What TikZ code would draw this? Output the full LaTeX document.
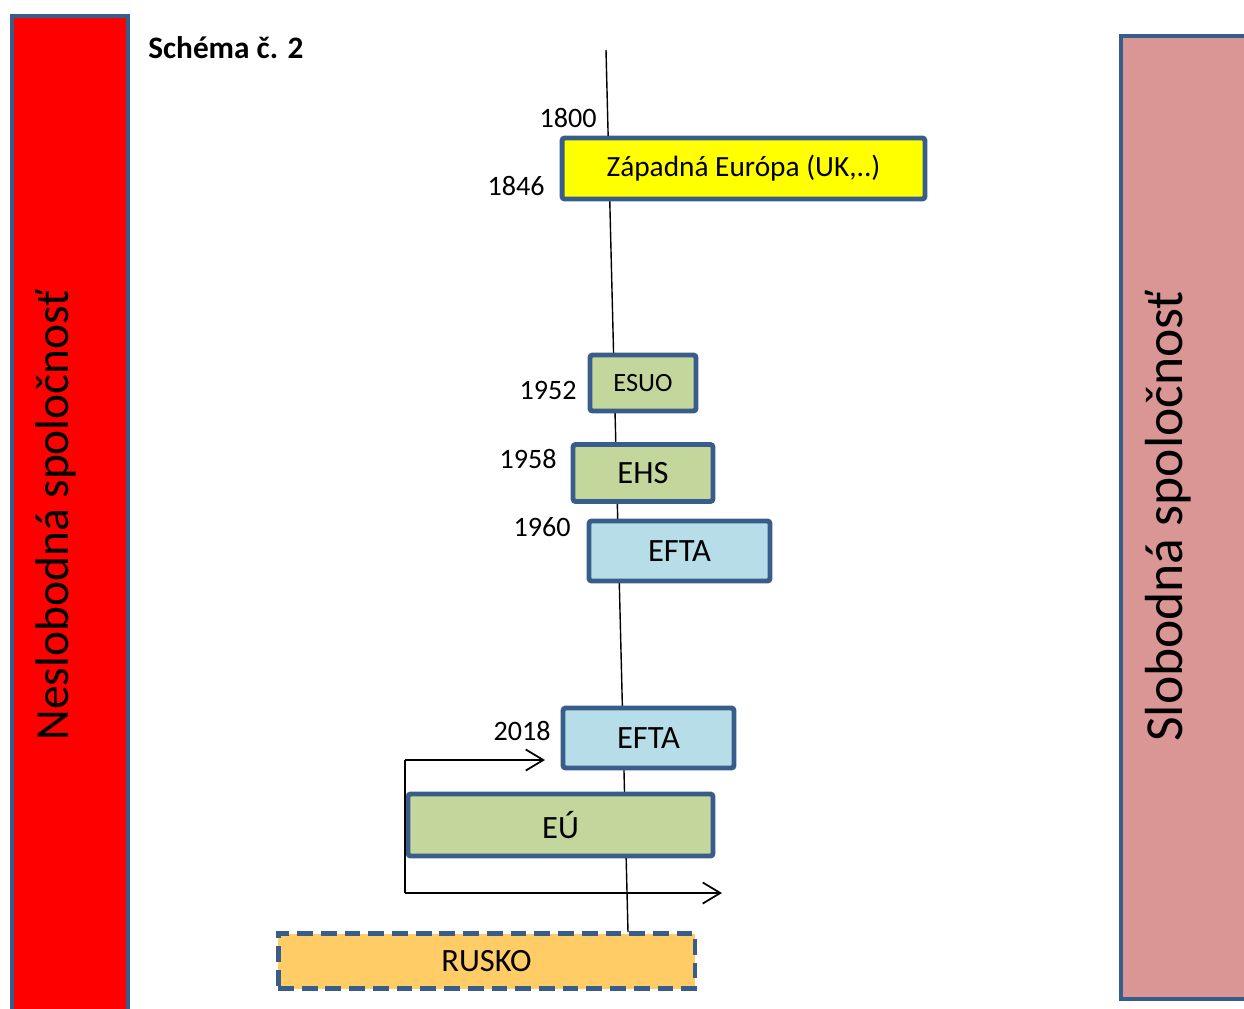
\documentclass[tikz,border=0pt]{standalone}
\usepackage{fontspec}
\setmainfont{Carlito}
\usepackage{tikz}
\usetikzlibrary{positioning,arrows.meta}
\definecolor{FrameBlue}{RGB}{56,93,138}
\definecolor{BarRed}{RGB}{255,0,0}
\definecolor{BarPink}{RGB}{217,150,148}
\definecolor{BoxYellow}{RGB}{255,255,0}
\definecolor{BoxGreen}{RGB}{195,214,155}
\definecolor{BoxBlue}{RGB}{183,222,232}
\definecolor{BoxOrange}{RGB}{255,204,102}

\begin{document}
\begin{tikzpicture}[
		x=0.02cm,y=-0.02cm,
		bar/.style={draw=FrameBlue,line width=2.3pt,inner sep=0pt},
		box/.style={draw=FrameBlue,line width=2.8pt,rounded corners=1.5pt,inner sep=0pt,
			font=\fontsize{18.5}{22}\selectfont},
		year/.style={anchor=east,inner sep=0pt,font=\fontsize{16}{19}\selectfont},
		side/.style={rotate=90,inner sep=0pt,font=\fontsize{27}{32}\selectfont},
		era/.style={->,>={Straight Barb[length=10pt,width=12pt]},line width=1pt}
	]
	
	\useasboundingbox (0,0) rectangle (1244,1008);
	\clip (0,0) rectangle (1244,1008);
	
	% side bars
	\node[
	bar,
	fill=BarRed,
	minimum width=2.32cm,
	minimum height=20.4cm,
	anchor=north
	]
	(nesl)
	at (70,14) {};
	
	\node[
	bar,
	fill=BarPink,
	minimum width=2.8cm,
	minimum height=19.26cm,
	anchor=north west
	]
	(slob)
	at (1119,34) {};
	
	\node[side] (neslText) at (56,515) {Neslobodná spoločnosť};
	\node[side,font=\fontsize{30.5}{36}\selectfont] (slobText) at (1168,516) {Slobodná spoločnosť};
	
	\node[anchor=west,inner sep=0pt,font=\fontsize{17.8}{21}\selectfont\bfseries]
	(title) at (148,48) {Schéma č. 2};
	
	% time axis
	\coordinate (axisTop) at (606,50);
	\coordinate (axisBot) at (628,932);
	\draw[line width=0.8pt] (axisTop) -- (axisBot);
	
	\node[
	box,
	fill=BoxYellow,
	minimum width=7.26cm,
	minimum height=1.22cm,
	font=\fontsize{16.7}{20}\selectfont
	]
	(ZE)
	at (743.5,168.5) {Západná Európa (UK,..)};
	
	\node[
	box,
	fill=BoxGreen,
	minimum width=2.12cm,
	minimum height=1.12cm,
	font=\fontsize{15}{18}\selectfont
	]
	(ESUO)
	at (643,383) {ESUO};
	
	\node[
	box,
	fill=BoxGreen,
	minimum width=2.8cm,
	minimum height=1.14cm
	]
	(EHS)
	at (643,473) {EHS};
	
	\node[
	box,
	fill=BoxBlue,
	minimum width=3.62cm,
	minimum height=1.2cm
	]
	(EFTA)
	at (679.5,551) {EFTA};
	
	\node[
	box,
	fill=BoxBlue,
	minimum width=3.42cm,
	minimum height=1.2cm
	]
	(EFTAnow)
	at (648.5,738) {EFTA};
	
	\node[
	box,
	fill=BoxGreen,
	minimum width=6.1cm,
	minimum height=1.24cm
	]
	(EU)
	at (560.5,825) {EÚ};
	
	\node[
	box,
	fill=BoxOrange,
	dash pattern=on 9pt off 4.5pt,
	rounded corners=0pt,
	minimum width=8.34cm,
	minimum height=1.1cm
	]
	(RU)
	at (486.5,961) {RUSKO};
	
	% years
	\node[year] (y1800) at (597,118) {1800};
	\node[year] (y1846) at (545,186) {1846};
	\node[year] (y1952) at (577,390) {1952};
	\node[year] (y1958) at (557,459) {1958};
	\node[year] (y1960) at (571,527) {1960};
	\node[year] (y2018) at (551,731) {2018};
	
	% EU bracket
	\coordinate (brTop) at (405,760);
	\coordinate (brBot) at (405,893);
	\coordinate (brTopEnd) at (545,760);
	\coordinate (brBotEnd) at (722,893);
	\draw[line width=1pt] (brTop) -- (brBot);
	\draw[era] (brTop) -- (brTopEnd);
	\draw[era] (brBot) -- (brBotEnd);
	
\end{tikzpicture}
\end{document}
